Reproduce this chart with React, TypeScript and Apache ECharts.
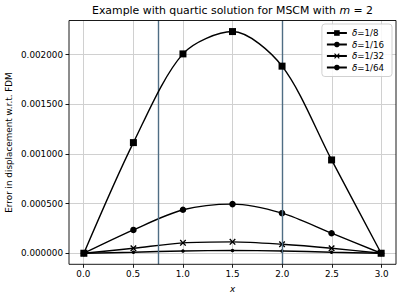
import React, { useEffect, useRef } from "react";
import * as echarts from "echarts";

const xValues = [0, 0.5, 1.0, 1.5, 2.0, 2.5, 3.0];
const delta8 = [0, 0.00111, 0.002, 0.002224, 0.001877, 0.000936, 0];
const delta16 = [0, 0.000234, 0.000436, 0.000493, 0.000402, 0.000201, 0];
const delta32 = [0, 0.00005, 0.000104, 0.000114, 0.00009, 0.00005, 0];
const delta64 = [0, 0.00001, 0.000023, 0.000027, 0.000023, 0.00001, 0];
const seriesNames = ["δ=1/8", "δ=1/16", "δ=1/32", "δ=1/64"];
const legendLabels = ["1/8", "1/16", "1/32", "1/64"];
const xTicks = [0, 0.5, 1.0, 1.5, 2.0, 2.5, 3.0];
const yTicks = [0, 0.0005, 0.001, 0.0015, 0.002];
const vLines = [0.75, 2.0];

const FONT = "DejaVu Sans";
const CROSS =
  "path://M1.5,0 L5,3.5 L8.5,0 L10,1.5 L6.5,5 L10,8.5 L8.5,10 L5,6.5 L1.5,10 L0,8.5 L3.5,5 L0,1.5 Z";

export default function App() {
  const ref = useRef<HTMLDivElement>(null);
  useEffect(() => {
    if (!ref.current) return;
    const chart = echarts.init(ref.current, undefined, { renderer: "svg" });
    const allData = [delta8, delta16, delta32, delta64];
    const symbols = ["rect", "circle", CROSS, "circle"];
    const sizes = [7, 6.5, 6.5, 3.5];
    const series: any[] = allData.map((d, i) => ({
      name: seriesNames[i],
      type: "line",
      xAxisIndex: 0,
      yAxisIndex: 0,
      data: d.map((v, j) => [xValues[j], v]),
      smooth: 0.3,
      symbol: symbols[i],
      symbolSize: sizes[i],
      showSymbol: true,
      lineStyle: { color: "#000", width: 1.4 },
      itemStyle: { color: "#000", borderColor: "#000", borderWidth: 0 },
      z: 5 - i,
    }));
    series.push({
      type: "line",
      xAxisIndex: 0,
      yAxisIndex: 0,
      data: [],
      silent: true,
      markLine: {
        symbol: "none",
        silent: true,
        label: { show: false },
        lineStyle: { color: "#4f6d84", width: 1.4, type: "solid" },
        data: vLines.map((v) => ({ xAxis: v })),
      },
    });

    const tickMin = yTicks[0];
    const tickMax = yTicks[yTicks.length - 1];

    chart.setOption({
      animation: false,
      textStyle: { fontFamily: FONT },
      grid: [
        { left: 69, right: 7, top: 20.5, bottom: 34.7, show: true, borderColor: "#000", borderWidth: 0.9, z: 10 },
        { left: 83.3, right: 21.3, top: 20.5, bottom: 34.7 },
        { left: 69, right: 7, top: 54.5, bottom: 45.7 },
      ],
      xAxis: [
        { type: "value", gridIndex: 0, min: -0.15, max: 3.15, show: false },
        {
          type: "value",
          gridIndex: 1,
          min: xTicks[0],
          max: xTicks[xTicks.length - 1],
          interval: 0.5,
          axisLine: { show: false },
          axisTick: { show: true, length: 3.5, lineStyle: { color: "#000", width: 0.9 } },
          axisLabel: {
            color: "#000",
            fontSize: 8.8,
            fontFamily: FONT,
            margin: 5,
            formatter: (v: number) => v.toFixed(1),
          },
          splitLine: { show: true, lineStyle: { color: "#d0d0d0", width: 1 } },
        },
        { type: "value", gridIndex: 2, min: 0, max: 1, show: false },
      ],
      yAxis: [
        { type: "value", gridIndex: 0, min: -0.000111, max: 0.002335, show: false },
        { type: "value", gridIndex: 1, min: 0, max: 1, show: false },
        {
          type: "value",
          gridIndex: 2,
          min: tickMin,
          max: tickMax,
          interval: 0.0005,
          axisLine: { show: false },
          axisTick: { show: true, length: 3.5, lineStyle: { color: "#000", width: 0.9 } },
          axisLabel: {
            color: "#000",
            fontSize: 8.8,
            fontFamily: FONT,
            margin: 6,
            formatter: (v: number) => v.toFixed(6),
          },
          splitLine: { show: true, lineStyle: { color: "#d0d0d0", width: 1 } },
        },
      ],
      legend: {
        orient: "vertical",
        right: 11,
        top: 24,
        itemWidth: 20,
        itemHeight: 7,
        itemGap: 1.5,
        padding: [4, 8, 4, 4],
        backgroundColor: "rgba(255,255,255,0.85)",
        borderColor: "#cccccc",
        borderWidth: 0.9,
        borderRadius: 3,
        data: seriesNames,
        formatter: (name: string) => {
          const i = seriesNames.indexOf(name);
          return "{i|δ}{n|=" + legendLabels[i] + "}";
        },
        textStyle: {
          color: "#000",
          fontSize: 8.7,
          fontFamily: FONT,
          lineHeight: 10,
          rich: {
            i: { fontStyle: "italic", fontSize: 8.7, fontFamily: FONT, color: "#000" },
            n: { fontSize: 8.7, fontFamily: FONT, color: "#000" },
          },
        },
        z: 20,
      },
      graphic: [
        {
          type: "text",
          x: 232.5,
          y: 10,
          style: {
            text: "{a|Example with quartic solution for MSCM with }{b|m}{a| = 2}",
            textAlign: "center",
            textVerticalAlign: "middle",
            rich: {
              a: { fontSize: 10.9, fontFamily: FONT, fill: "#000" },
              b: { fontSize: 10.9, fontFamily: FONT, fontStyle: "italic", fill: "#000" },
            },
          },
        },
        {
          type: "text",
          x: 232.5,
          y: 289,
          style: {
            text: "x",
            textAlign: "center",
            textVerticalAlign: "middle",
            fontSize: 8.8,
            fontFamily: FONT,
            fontStyle: "italic",
            fill: "#000",
          },
        },
        {
          type: "text",
          x: 9,
          y: 142.5,
          rotation: Math.PI / 2,
          style: {
            text: "Error in displacement w.r.t. FDM",
            textAlign: "center",
            textVerticalAlign: "middle",
            fontSize: 8.8,
            fontFamily: FONT,
            fill: "#000",
          },
        },
      ],
      series,
    });
    return () => chart.dispose();
  }, []);
  return <div ref={ref} style={{ width: 403, height: 299, position: "absolute", left: 0, top: 0 }} />;
}
